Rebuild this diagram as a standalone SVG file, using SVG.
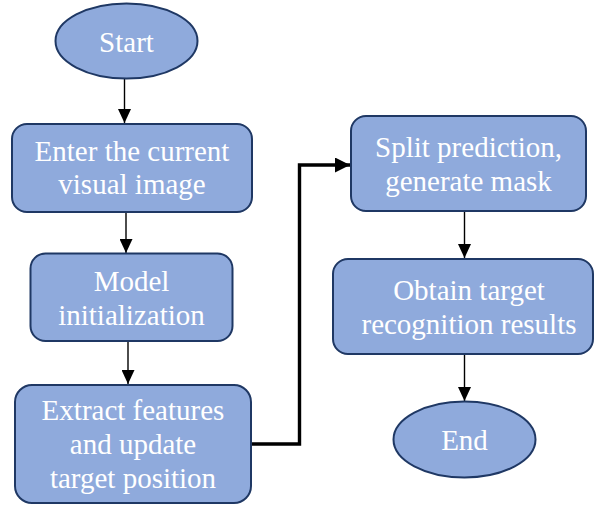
<svg xmlns="http://www.w3.org/2000/svg" width="594" height="506" viewBox="0 0 594 506">
<style>
.n{fill:#8FAADC;stroke:#1F3864;stroke-width:2}
.c{fill:none;stroke:#000;stroke-width:1.4}
.ck{fill:none;stroke:#000;stroke-width:3.4}
</style>
<defs>
<marker id="a" viewBox="0 0 14 13" refX="14" refY="6.5" markerWidth="14" markerHeight="13" markerUnits="userSpaceOnUse" orient="auto">
<path d="M0,0 L14,6.5 L0,13 Z" fill="#000"/>
</marker>
<marker id="b" viewBox="0 0 15 15" refX="15" refY="7.5" markerWidth="15" markerHeight="15" markerUnits="userSpaceOnUse" orient="auto">
<path d="M0,0 L15,7.5 L0,15 Z" fill="#000"/>
</marker>
</defs>
<g id="connectors">
<line class="c" x1="124.5" y1="79" x2="124.5" y2="123" marker-end="url(#a)"/>
<line class="c" x1="126" y1="212" x2="126" y2="253" marker-end="url(#a)"/>
<line class="c" x1="128" y1="341" x2="128" y2="384" marker-end="url(#a)"/>
<polyline class="ck" points="251,444 299.5,444 299.5,165 350,165" marker-end="url(#b)"/>
<line class="c" x1="464.5" y1="211" x2="464.5" y2="258" marker-end="url(#a)"/>
<line class="c" x1="464.5" y1="354" x2="464.5" y2="401" marker-end="url(#a)"/>
</g>
<g font-family="Liberation Serif" font-size="29" fill="#FFFFFF" text-anchor="middle">
<g id="start">
<ellipse class="n" cx="126.5" cy="41" rx="71" ry="37.5"/>
<text x="126.5" y="52">Start</text>
</g>
<g id="enter">
<rect class="n" x="12" y="124" width="240" height="88" rx="15"/>
<text x="132" y="161">Enter the current</text>
<text x="132" y="194">visual image</text>
</g>
<g id="model">
<rect class="n" x="30.5" y="253.5" width="202" height="87.5" rx="15"/>
<text x="131.5" y="291">Model</text>
<text x="131.5" y="325">initialization</text>
</g>
<g id="extract">
<rect class="n" x="15" y="385" width="236" height="118" rx="17"/>
<text x="133" y="420">Extract features</text>
<text x="133" y="454">and update</text>
<text x="133" y="488">target position</text>
</g>
<g id="split">
<rect class="n" x="351" y="116" width="235" height="95" rx="15"/>
<text x="468.5" y="157">Split prediction,</text>
<text x="468.5" y="191">generate mask</text>
</g>
<g id="obtain">
<rect class="n" x="333" y="259" width="260" height="95" rx="15"/>
<text x="469" y="300">Obtain target</text>
<text x="469" y="334">recognition results</text>
</g>
<g id="end">
<ellipse class="n" cx="464.5" cy="439.5" rx="71" ry="38"/>
<text x="464.5" y="450">End</text>
</g>
</g>
</svg>
